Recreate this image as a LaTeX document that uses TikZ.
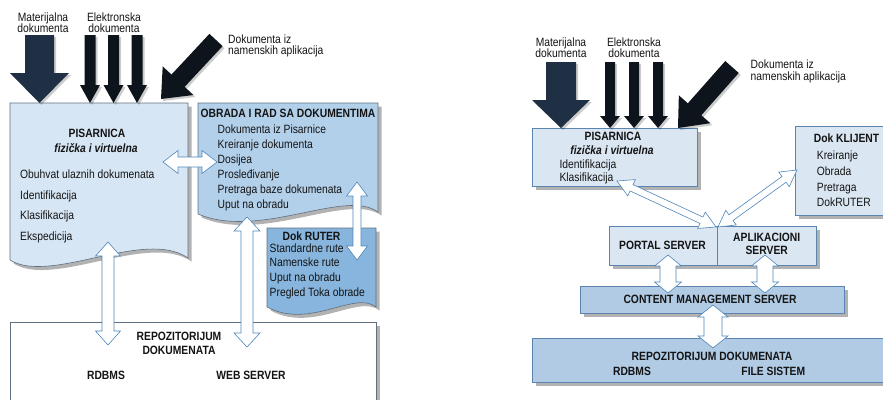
\documentclass[tikz,border=0pt]{standalone}
\usepackage{fontspec}
\setmainfont{Liberation Sans}[FakeStretch=0.86]
\usetikzlibrary{calc,shadows}
\definecolor{docA}{HTML}{D7E6F4}
\definecolor{docB}{HTML}{B3D0EB}
\definecolor{docC}{HTML}{87B5DD}
\definecolor{boxL}{HTML}{DAE6F2}
\definecolor{boxM}{HTML}{B1CBE5}
\definecolor{rborder}{HTML}{5B85B0}
\definecolor{dborder}{HTML}{5F6F80}
\definecolor{arrline}{HTML}{4F86BB}
\definecolor{navy}{HTML}{1F3044}
\definecolor{blk}{HTML}{0D141C}
\definecolor{ink}{HTML}{141414}
\newcommand\dblarrow[5]{%
 \draw[dblarr] (#1) -- ($(#1)!#5!(#2)!#4!90:(#2)$) -- ($(#1)!#5!(#2)!#3!90:(#2)$)
  -- ($(#2)!#5!(#1)!#3!-90:(#1)$) -- ($(#2)!#5!(#1)!#4!-90:(#1)$) -- (#2)
  -- ($(#2)!#5!(#1)!#4!90:(#1)$) -- ($(#2)!#5!(#1)!#3!90:(#1)$)
  -- ($(#1)!#5!(#2)!#3!-90:(#2)$) -- ($(#1)!#5!(#2)!#4!-90:(#2)$) -- cycle;}
\newcommand\blkarrow[6]{%
 \fill[#6] ($(#1)!#3!90:(#2)$) -- ($(#2)!#5!(#1)!#3!-90:(#1)$) -- ($(#2)!#5!(#1)!#4!-90:(#1)$)
  -- (#2) -- ($(#2)!#5!(#1)!#4!90:(#1)$) -- ($(#2)!#5!(#1)!#3!90:(#1)$)
  -- ($(#1)!#3!-90:(#2)$) -- cycle;}
\begin{document}
\begin{tikzpicture}[x=1pt,y=-1pt,
  shad/.style={drop shadow={shadow xshift=3.5pt,shadow yshift=-3.5pt,fill=black,opacity=0.3}},
  doc/.style={draw=dborder,line width=0.6pt,shad},
  rbox/.style={draw=rborder,line width=0.7pt,shad},
  dblarr/.style={draw=arrline,fill=white,line width=0.6pt,line join=miter},
  navyarr/.style={fill=navy,drop shadow={shadow xshift=2pt,shadow yshift=-2pt,fill=black,opacity=0.2}},
  blkarr/.style={fill=blk,drop shadow={shadow xshift=2pt,shadow yshift=-2pt,fill=black,opacity=0.2}},
  txt/.style={inner sep=0pt,anchor=base west,text=ink,font=\fontsize{12}{14}\selectfont},
  ctxt/.style={txt,anchor=base},
  btxt/.style={ctxt,font=\fontsize{12}{14}\selectfont\bfseries}]
\useasboundingbox (0,0) rectangle (883,399);
\fill[white] (0,0) rectangle (883,399);

% ================= LEFT PANEL =================
% document shapes
\draw[doc,fill=docA] (10,103) -- (188,103) -- (188,258) .. controls (145,228) and (50,285) .. (10,260) -- cycle;
\draw[doc,fill=docB] (198,103) -- (378,103) -- (378,212) .. controls (345,188) and (260,240) .. (198,214) -- cycle;
\draw[doc,fill=docC] (267,228) -- (376,228) -- (376,307) .. controls (355,290) and (310,330) .. (267,307) -- cycle;
% repository box
\draw[draw=dborder,line width=0.6pt,fill=white,shad] (10,322) rectangle (376,410);

% black input arrows
\coordinate (lbT) at (39.5,35);  \coordinate (lbP) at (39.5,103);
\coordinate (l1T) at (90,35);    \coordinate (l1P) at (90,103);
\coordinate (l2T) at (113.5,35); \coordinate (l2P) at (113.5,103);
\coordinate (l3T) at (137,35);   \coordinate (l3P) at (137,103);
\coordinate (ldT) at (216,40);   \coordinate (ldP) at (161,99);
\blkarrow{lbT}{lbP}{14.5pt}{29.5pt}{30pt}{navyarr}
\blkarrow{l1T}{l1P}{5.5pt}{10pt}{18pt}{blkarr}
\blkarrow{l2T}{l2P}{5.5pt}{10pt}{18pt}{blkarr}
\blkarrow{l3T}{l3P}{5.5pt}{10pt}{18pt}{blkarr}
\blkarrow{ldT}{ldP}{9pt}{21pt}{25pt}{blkarr}

% white double arrows
\coordinate (hA) at (163,162); \coordinate (hB) at (217,162);
\coordinate (pA) at (108,242); \coordinate (pB) at (108,345);
\coordinate (oA) at (247,217); \coordinate (oB) at (247,347);
\coordinate (rA) at (357,182); \coordinate (rB) at (357,260);
\dblarrow{hA}{hB}{5pt}{11.5pt}{15pt}
\dblarrow{pA}{pB}{6pt}{12.5pt}{14pt}
\dblarrow{oA}{oB}{6pt}{13pt}{14pt}
\dblarrow{rA}{rB}{4pt}{10.5pt}{14pt}

% texts
\node[ctxt] (lmat1) at (43,21) {Materijalna};
\node[ctxt] (lmat2) at (43,32) {dokumenta};
\node[ctxt] (lel1) at (114,21) {Elektronska};
\node[ctxt] (lel2) at (114,32) {dokumenta};
\node[txt] (lnam1) at (228,43) {Dokumenta iz};
\node[txt] (lnam2) at (228,54) {namenskih aplikacija};

\node[btxt] (lpis) at (97,137.5) {PISARNICA};
\node[ctxt,font=\fontsize{12}{14}\selectfont\bfseries\itshape] (lfiz) at (96,152) {fizička i virtuelna};
\node[txt] (lp1) at (20,178.5) {Obuhvat ulaznih dokumenata};
\node[txt] (lp2) at (20,199) {Identifikacija};
\node[txt] (lp3) at (20,219.5) {Klasifikacija};
\node[txt] (lp4) at (20,240) {Ekspedicija};

\node[btxt] (lobr) at (288,117) {OBRADA I RAD SA DOKUMENTIMA};
\node[txt] (lo1) at (217.5,133.3) {Dokumenta iz Pisarnice};
\node[txt] (lo2) at (217.5,148.3) {Kreiranje dokumenta};
\node[txt] (lo3) at (217.5,163.3) {Dosijea};
\node[txt] (lo4) at (217.5,178.3) {Prosleđivanje};
\node[txt] (lo5) at (217.5,193.3) {Pretraga baze dokumenata};
\node[txt] (lo6) at (217.5,208.3) {Uput na obradu};

\node[btxt,font=\fontsize{12}{14}\selectfont\bfseries] (lrut) at (311.5,240) {Dok RUTER};
\node[txt] (lr1) at (269.5,252.3) {Standardne rute};
\node[txt] (lr2) at (269.5,266.8) {Namenske rute};
\node[txt] (lr3) at (269.5,281.5) {Uput na obradu};
\node[txt] (lr4) at (269.5,296.5) {Pregled Toka obrade};

\node[btxt] (lrep1) at (179,340) {REPOZITORIJUM};
\node[btxt] (lrep2) at (179,354.3) {DOKUMENATA};
\node[btxt] (lrdb) at (106,379) {RDBMS};
\node[btxt] (lweb) at (251,379) {WEB SERVER};

% ================= RIGHT PANEL =================
\draw[rbox,fill=boxL] (532,128) rectangle (697,186);
\draw[rbox,fill=boxL] (795,126) rectangle (892,215);
\draw[rbox,fill=boxL] (609,226) rectangle (816,265);
\draw[draw=rborder,line width=0.7pt] (717,226) -- (717,265);
\draw[rbox,fill=boxM] (580,286) rectangle (844,313);
\draw[rbox,fill=boxM] (532,338) rectangle (892,382);

% black input arrows
\coordinate (rbT) at (561,62);   \coordinate (rbP) at (561,128);
\coordinate (r1T) at (610,62);   \coordinate (r1P) at (610,128);
\coordinate (r2T) at (634,62);   \coordinate (r2P) at (634,128);
\coordinate (r3T) at (658,62);   \coordinate (r3P) at (658,128);
\coordinate (rdT) at (732,67);   \coordinate (rdP) at (678,128);
\blkarrow{rbT}{rbP}{15pt}{29pt}{28pt}{navyarr}
\blkarrow{r1T}{r1P}{5pt}{10pt}{12pt}{blkarr}
\blkarrow{r2T}{r2P}{5pt}{10pt}{12pt}{blkarr}
\blkarrow{r3T}{r3P}{5pt}{10pt}{12pt}{blkarr}
\blkarrow{rdT}{rdP}{9pt}{21pt}{25pt}{blkarr}

% white double arrows
\coordinate (psA) at (668,255); \coordinate (psB) at (668,293);
\coordinate (asA) at (765,255); \coordinate (asB) at (765,293);
\coordinate (cmA) at (713,305); \coordinate (cmB) at (713,348);
\coordinate (dlA) at (617,181); \coordinate (dlB) at (716,227);
\coordinate (drA) at (797,170); \coordinate (drB) at (718,227);
\dblarrow{psA}{psB}{8pt}{13.5pt}{11pt}
\dblarrow{asA}{asB}{8pt}{13.5pt}{11pt}
\dblarrow{cmA}{cmB}{9pt}{15pt}{12pt}
\dblarrow{dlA}{dlB}{3.5pt}{9pt}{16pt}
\dblarrow{drA}{drB}{3.5pt}{9pt}{16pt}

% texts
\node[ctxt] (rmat1) at (561,46) {Materijalna};
\node[ctxt] (rmat2) at (561,57) {dokumenta};
\node[ctxt] (rel1) at (634,46) {Elektronska};
\node[ctxt] (rel2) at (634,57) {dokumenta};
\node[txt] (rnam1) at (750.5,68.5) {Dokumenta iz};
\node[txt] (rnam2) at (750.5,80) {namenskih aplikacija};

\node[btxt] (rpis) at (613,140.7) {PISARNICA};
\node[ctxt,font=\fontsize{12}{14}\selectfont\bfseries\itshape] (rfiz) at (612,154) {fizička i virtuelna};
\node[txt] (rp1) at (559.3,168.3) {Identifikacija};
\node[txt] (rp2) at (559.3,181.7) {Klasifikacija};

\node[btxt] (rkl) at (846.5,142.7) {Dok KLIJENT};
\node[txt] (rk1) at (816.7,159.3) {Kreiranje};
\node[txt] (rk2) at (816.7,175) {Obrada};
\node[txt] (rk3) at (816.7,191) {Pretraga};
\node[txt] (rk4) at (816.7,206.7) {DokRUTER};

\node[btxt] (rport) at (662.5,249) {PORTAL SERVER};
\node[btxt] (rapl1) at (766.7,241.7) {APLIKACIONI};
\node[btxt] (rapl2) at (766.7,254) {SERVER};
\node[btxt] (rcms) at (710,303.3) {CONTENT MANAGEMENT SERVER};
\node[btxt] (rrep) at (712,360.7) {REPOZITORIJUM DOKUMENATA};
\node[btxt] (rrdb) at (632,375) {RDBMS};
\node[btxt] (rfs) at (773.3,375) {FILE SISTEM};
\end{tikzpicture}
\end{document}
